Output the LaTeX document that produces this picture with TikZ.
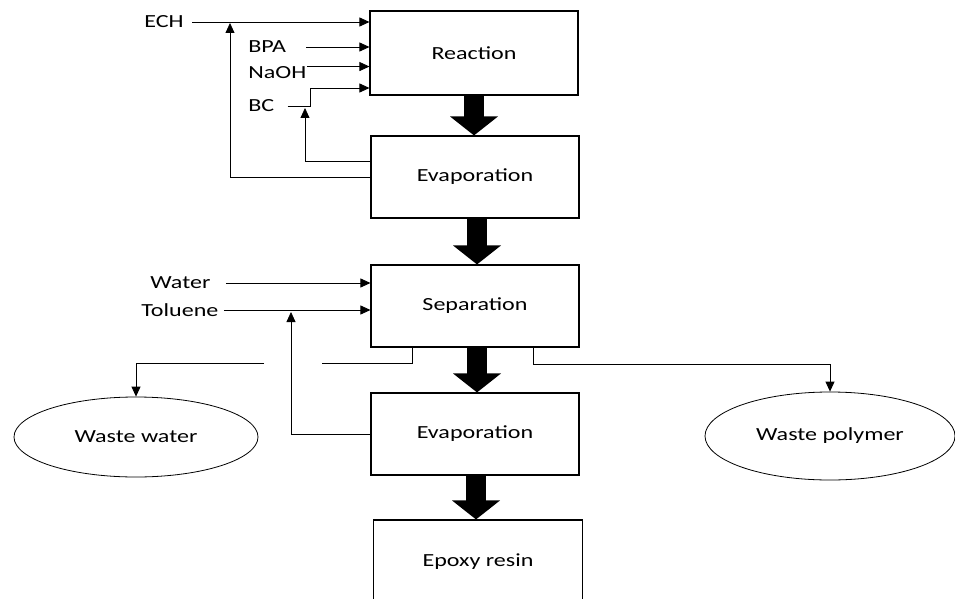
\documentclass[tikz,border=0pt]{standalone}
\usepackage{fontspec}
\setmainfont{Carlito}[FakeStretch=1.3]
\usepackage{tikz}
\usetikzlibrary{arrows.meta}
\usetikzlibrary{shapes.geometric}

\begin{document}
\begin{tikzpicture}[x=1pt, y=-1pt, line width=0.8pt,
					font=\fontsize{18.5}{20}\selectfont,
					>={Triangle[length=10pt,width=9pt]}]

\tikzstyle{unit}=[rectangle, draw, line width=1.1pt, minimum width=208pt, minimum height=82pt, inner sep=0pt]
\tikzstyle{waste}=[ellipse, draw, line width=0.8pt, inner sep=0pt]
\tikzstyle{feed}=[inner sep=0pt, anchor=west]
\tikzstyle{bigarrow}=[line width=20pt, -{Triangle[length=19pt,width=47pt]}]

\useasboundingbox (0,0) rectangle (955,599);

% process units
\node[unit, minimum height=84pt] (react) at (474,53) {Reaction};
\node[unit] (evap1) at (475,177) {Evaporation};
\node[unit] (sep) at (475,306) {Separation};
\node[unit] (evap2) at (475,434) {Evaporation};
\node[unit, minimum width=209pt, minimum height=84pt] (resin) at (478,562) {Epoxy resin};

% waste streams
\node[waste, minimum width=244pt, minimum height=80pt] (wwater) at (136,437) {Waste water};
\node[waste, minimum width=250pt, minimum height=88pt] (wpoly) at (830,436) {Waste polymer};

% feeds
\node[feed] (ech) at (144,22) {ECH};
\node[feed] (bpa) at (248,47) {BPA};
\node[feed] (naoh) at (248,73) {NaOH};
\node[feed] (bc) at (248,106) {BC};
\node[feed] (water) at (150,283) {Water};
\node[feed] (toluene) at (141,310) {Toluene};

\coordinate (bcin) at (310,88);
\coordinate (echjoin) at (230,23);
\coordinate (bcjoin) at (305,108);
\coordinate (toljoin) at (291,312);
\coordinate (wwgapR) at (322,363);
\coordinate (wwgapL) at (264,363);

\draw[->] ([xshift=8pt]ech.east) -- (ech.east -| react.west);
\draw[->] ([xshift=20pt]bpa.east) -- (bpa.east -| react.west);
\draw[->] (naoh.north east) -- (naoh.north east -| react.west);
\draw[->] ([xshift=13pt]bc.east) -| (bcin) -- (bcin -| react.west);
\draw[->] ([xshift=15pt]water.east) -- (water.east -| sep.west);
\draw[->] ([xshift=5pt]toluene.east) -- (toluene.east -| sep.west);

% recycles
\draw[->] (evap1.west) -| (echjoin);
\draw[->] ([yshift=16pt]evap1.west) -| (bcjoin);
\draw[->] (evap2.west) -| (toljoin);

% outlets
\draw ([xshift=-63pt]sep.south) |- (wwgapR);
\draw[->] (wwgapL) -| (wwater.north);
\draw[->] ([xshift=58pt]sep.south) -- ++(0,17) -| (wpoly.north);

% main flow
\draw[bigarrow] (react.south) -- (react.south |- evap1.north);
\draw[bigarrow] ([xshift=2pt]evap1.south) -- ([xshift=2pt]evap1.south |- sep.north);
\draw[bigarrow] ([xshift=2pt]sep.south) -- ([xshift=2pt]sep.south |- evap2.north);
\draw[bigarrow] ([xshift=1pt]evap2.south) -- ([xshift=1pt]evap2.south |- resin.north);
\end{tikzpicture}
\end{document}
